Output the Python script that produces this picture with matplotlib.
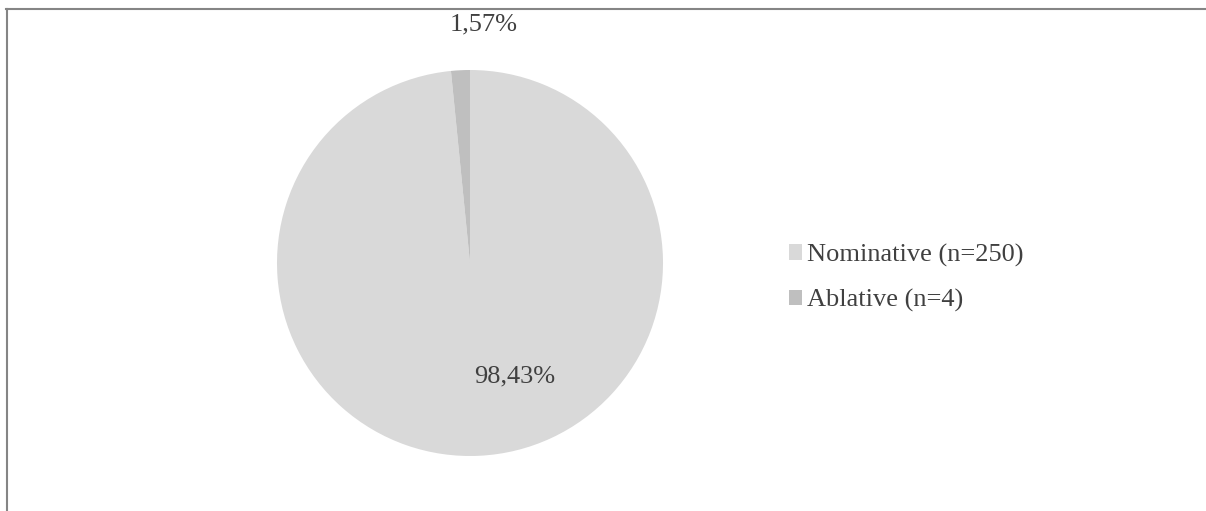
import matplotlib.pyplot as plt
from matplotlib.patches import Patch
from matplotlib.lines import Line2D

labels = ['Nominative', 'Ablative']
counts = [250, 4]
colors = ['#d9d9d9', '#bfbfbf']

W, H = 1206, 511
fig = plt.figure(figsize=(W / 100, H / 100), dpi=100)
plt.rcParams['font.family'] = ['Liberation Serif', 'DejaVu Serif']

# pie axes: centre (470, 263) px, radius 193 px
cx, cy, r = 470, 263, 193
ax = fig.add_axes([(cx - r) / W, (H - cy - r) / H, 2 * r / W, 2 * r / H])
wedges, _ = ax.pie(counts, colors=colors, startangle=90, counterclock=False,
                   radius=1, wedgeprops=dict(linewidth=0))
ax.set_xlim(-1, 1)
ax.set_ylim(-1, 1)
ax.set_aspect('equal')
ax.axis('off')

total = sum(counts)
pct = [f'{100 * c / total:.2f}'.replace('.', ',') + '%' for c in counts]
txt_color = '#404040'
ax.text(0.233, -0.59, pct[0], ha='center', va='center', fontsize=19, color=txt_color)
ax.text(0.07, 1.235, pct[1], ha='center', va='center', fontsize=19, color=txt_color)

handles = [Patch(facecolor=c, edgecolor='none') for c in colors]
leg_labels = [f'{l} (n={n})' for l, n in zip(labels, counts)]
fig.legend(handles, leg_labels, loc='center left', bbox_to_anchor=(789 / W, 1 - 278 / H),
           frameon=False, fontsize=19, handlelength=0.5, handleheight=0.5,
           handletextpad=0.2, labelspacing=0.85, labelcolor=txt_color, borderaxespad=0,
           borderpad=0)

# chart frame (top and left edges visible)
fig.add_artist(Line2D([6 / W, 1], [1 - 9.5 / H] * 2, color='#858585', lw=1.5, transform=fig.transFigure))
fig.add_artist(Line2D([7 / W] * 2, [0, 1 - 9.5 / H], color='#858585', lw=1.5, transform=fig.transFigure))

fig.savefig('out.png', dpi=100)
